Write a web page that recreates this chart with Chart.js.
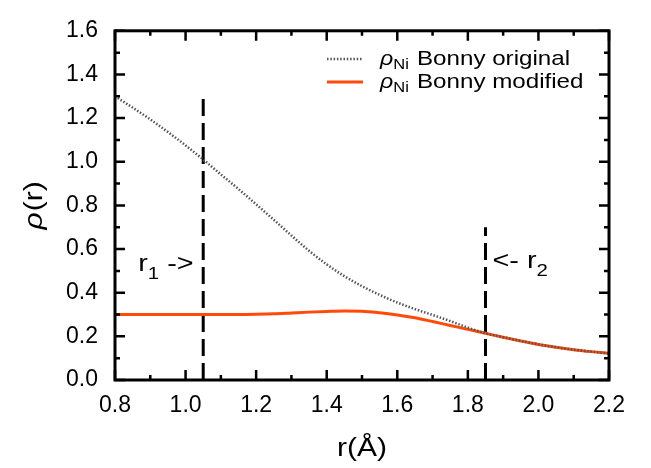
<!DOCTYPE html>
<html>
<head>
<meta charset="utf-8">
<script src="https://cdn.jsdelivr.net/npm/chart.js@4"></script>
<style>
  body { margin: 0; background: #fff; }
  #wrap { width: 651px; height: 468px; }
</style>
</head>
<body>
<div id="wrap"><canvas id="grafico" width="651" height="468"></canvas></div>
<script>
// radius grid (Å)
const rValues = [0.80, 0.85, 0.90, 0.95, 1.00, 1.05, 1.10, 1.15, 1.20, 1.25, 1.30, 1.35, 1.40, 1.45,
  1.50, 1.55, 1.60, 1.65, 1.70, 1.75, 1.80, 1.85, 1.90, 1.95, 2.00, 2.05, 2.10, 2.15, 2.20];
// electron density, original Bonny potential
const rhoOriginal = [1.300, 1.248, 1.194, 1.136, 1.075, 1.010, 0.942, 0.875, 0.805, 0.734, 0.662, 0.592, 0.530, 0.476,
  0.430, 0.390, 0.355, 0.325, 0.298, 0.270, 0.240, 0.214, 0.196, 0.179, 0.163, 0.150, 0.139, 0.130, 0.122];
// electron density, modified Bonny potential
const rhoModified = [0.300, 0.300, 0.300, 0.300, 0.300, 0.300, 0.300, 0.300, 0.301, 0.303, 0.307, 0.311, 0.314, 0.316,
  0.315, 0.308, 0.298, 0.285, 0.268, 0.250, 0.232, 0.214, 0.196, 0.179, 0.163, 0.150, 0.139, 0.130, 0.122];

// cutoff markers r1, r2
const cutoffR = [1.05, 1.85];
const cutoffTop = [1.30, 0.70];

const xTicks = [0.8, 1.0, 1.2, 1.4, 1.6, 1.8, 2.0, 2.2];
const yTicks = [0.0, 0.2, 0.4, 0.6, 0.8, 1.0, 1.2, 1.4, 1.6];

const FONT = '"Liberation Sans", Arial, sans-serif';
const NARANJA = '#ff4a0a';
const GRIS = '#555555';

const puntos = (ys) => rValues.map((x, i) => ({ x: x, y: ys[i] }));

const datasets = [
  {
    label: 'original',
    data: puntos(rhoOriginal),
    borderColor: GRIS,
    borderWidth: 2.5,
    borderDash: [1.5, 1.8],
    pointRadius: 0,
    cubicInterpolationMode: 'monotone'
  },
  {
    label: 'modified',
    data: puntos(rhoModified),
    borderColor: NARANJA,
    borderWidth: 3,
    pointRadius: 0,
    cubicInterpolationMode: 'monotone'
  }
];

cutoffR.forEach((r, i) => {
  datasets.push({
    label: 'r' + (i + 1),
    data: [{ x: r, y: 0 }, { x: r, y: cutoffTop[i] }],
    borderColor: '#000',
    borderWidth: 3,
    borderDash: [17, 7],
    pointRadius: 0
  });
});

// text pieces (with subscripts), slightly widened horizontally
function textoSub(ctx, partes, x, y, ancho) {
  ctx.save();
  ctx.translate(x, y);
  ctx.scale(ancho || 1, 1);
  let cx = 0;
  partes.forEach(p => {
    ctx.font = p.font;
    ctx.fillText(p.t, cx, p.dy || 0);
    cx += ctx.measureText(p.t).width + (p.gap || 0);
  });
  ctx.restore();
  return cx * (ancho || 1);
}

function medir(ctx, partes) {
  let w = 0;
  partes.forEach(p => { ctx.font = p.font; w += ctx.measureText(p.t).width + (p.gap || 0); });
  return w;
}

const marco = {
  id: 'marco',
  afterDraw(chart) {
    const ctx = chart.ctx;
    const a = chart.chartArea;
    const sx = chart.scales.x, sy = chart.scales.y;
    ctx.save();
    ctx.strokeStyle = '#000';
    ctx.fillStyle = '#000';

    // ticks pointing inward on all four sides
    ctx.lineWidth = 2.5;
    for (let k = 0; k <= 14; k++) {
      const px = sx.getPixelForValue(0.8 + k * 0.1);
      const len = k % 2 === 0 ? 10 : 5;
      ctx.beginPath();
      ctx.moveTo(px, a.bottom); ctx.lineTo(px, a.bottom - len);
      ctx.moveTo(px, a.top); ctx.lineTo(px, a.top + len);
      ctx.stroke();
    }
    for (let k = 0; k <= 16; k++) {
      const py = sy.getPixelForValue(k * 0.1);
      const len = k % 2 === 0 ? 10 : 5;
      ctx.beginPath();
      ctx.moveTo(a.left, py); ctx.lineTo(a.left + len, py);
      ctx.moveTo(a.right, py); ctx.lineTo(a.right - len, py);
      ctx.stroke();
    }
    ctx.lineWidth = 3;
    ctx.strokeRect(a.left, a.top, a.right - a.left, a.bottom - a.top);

    ctx.textBaseline = 'alphabetic';
    ctx.textAlign = 'left';

    // axis titles
    const tituloX = [{ t: 'r(Å)', font: '25px ' + FONT }];
    const wx = medir(ctx, tituloX) * 1.2;
    textoSub(ctx, tituloX, (a.left + a.right) / 2 - wx / 2, 456, 1.2);

    const tituloY = [
      { t: 'ρ', font: 'italic 25px ' + FONT, gap: 1 },
      { t: '(r)', font: '25px ' + FONT }
    ];
    const wy = medir(ctx, tituloY) * 1.2;
    ctx.save();
    ctx.translate(42, (a.top + a.bottom) / 2);
    ctx.rotate(-Math.PI / 2);
    textoSub(ctx, tituloY, -wy / 2, 0, 1.2);
    ctx.restore();

    // cutoff labels
    const yl = sy.getPixelForValue(0.5);
    textoSub(ctx, [
      { t: 'r', font: '24px ' + FONT },
      { t: '1', font: '17px ' + FONT, dy: 8 },
      { t: ' ->', font: '24px ' + FONT }
    ], sx.getPixelForValue(cutoffR[0]) - 65, yl, 1.2);
    textoSub(ctx, [
      { t: '<- ', font: '24px ' + FONT },
      { t: 'r', font: '24px ' + FONT },
      { t: '2', font: '17px ' + FONT, dy: 8 }
    ], sx.getPixelForValue(cutoffR[1]) + 7, yl - 3, 1.2);

    // legend
    const lx = 327, ly = [59, 82];
    ctx.lineWidth = 2.5;
    ctx.strokeStyle = GRIS;
    ctx.setLineDash([1.5, 1.8]);
    ctx.beginPath(); ctx.moveTo(lx, ly[0]); ctx.lineTo(lx + 36, ly[0]); ctx.stroke();
    ctx.setLineDash([]);
    ctx.lineWidth = 3;
    ctx.strokeStyle = NARANJA;
    ctx.beginPath(); ctx.moveTo(lx, ly[1]); ctx.lineTo(lx + 36, ly[1]); ctx.stroke();
    ['Bonny original', 'Bonny modified'].forEach((t, i) => {
      textoSub(ctx, [
        { t: 'ρ', font: 'italic 21px ' + FONT },
        { t: 'Ni', font: '15px ' + FONT, dy: 4, gap: 3 }
      ], 380, ly[i] + 6, 1.1);
      textoSub(ctx, [{ t: t, font: '21px ' + FONT }], 417, ly[i] + 6, 1.15);
    });
    ctx.restore();
  }
};

new Chart(document.getElementById('grafico').getContext('2d'), {
  type: 'line',
  data: { datasets: datasets },
  plugins: [marco],
  options: {
    responsive: false,
    animation: false,
    devicePixelRatio: 1,
    layout: { padding: { left: 0, right: 42, top: 12.5, bottom: 0 } },
    plugins: { legend: { display: false }, tooltip: { enabled: false } },
    scales: {
      x: {
        type: 'linear',
        min: 0.8, max: 2.2,
        afterBuildTicks: s => { s.ticks = xTicks.map(v => ({ value: v })); },
        afterFit: s => { s.height = 88; },
        grid: { display: false, drawTicks: false },
        border: { display: false },
        ticks: {
          padding: 12,
          color: '#000',
          font: { family: FONT, size: 23 },
          maxRotation: 0,
          callback: v => v.toFixed(1)
        }
      },
      y: {
        type: 'linear',
        min: 0, max: 1.6,
        afterBuildTicks: s => { s.ticks = yTicks.map(v => ({ value: v })); },
        afterFit: s => { s.width = 115; },
        grid: { display: false, drawTicks: false },
        border: { display: false },
        ticks: {
          padding: 17,
          color: '#000',
          font: { family: FONT, size: 23 },
          callback: v => v.toFixed(1)
        }
      }
    }
  }
});
</script>
</body>
</html>
